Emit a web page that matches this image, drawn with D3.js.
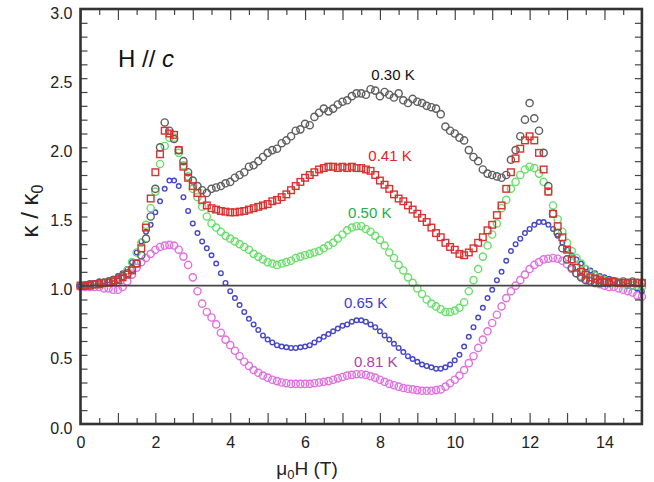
<!DOCTYPE html>
<html>
<head>
<meta charset="utf-8">
<script src="https://cdn.jsdelivr.net/npm/d3@7"></script>
<style>
  html, body { margin: 0; padding: 0; background: #fff; }
  svg { display: block; font-family: "Liberation Sans", Arial, Helvetica, sans-serif; }
</style>
</head>
<body>
<svg id="chart" width="654" height="482"></svg>
<script>
// ---- data (field in T, kappa/kappa0) ----
const fieldStep = 0.125;
const field = d3.range(121).map(i => i * fieldStep);

const k030 = [1.00,1.00,1.01,1.01,1.02,1.02,1.03,1.04,1.05,1.07,1.09,1.12,1.16,1.22,1.34,1.50,1.70,2.00,2.18,2.12,
  2.06,1.98,1.90,1.82,1.76,1.72,1.69,1.67,1.70,1.71,1.72,1.74,1.75,1.78,1.80,1.82,1.86,1.87,1.90,1.93,
  1.96,1.98,1.99,2.03,2.05,2.08,2.12,2.13,2.17,2.16,2.22,2.25,2.28,2.26,2.28,2.31,2.33,2.34,2.37,2.39,
  2.39,2.38,2.42,2.41,2.37,2.40,2.38,2.36,2.39,2.34,2.32,2.35,2.33,2.32,2.30,2.29,2.28,2.24,2.15,2.12,
  2.10,2.07,2.05,1.98,1.93,1.90,1.84,1.81,1.80,1.79,1.78,1.80,1.91,1.98,2.08,2.20,2.32,2.21,2.12,1.96,
  1.72,1.52,1.38,1.27,1.19,1.13,1.09,1.06,1.04,1.03,1.02,1.02,1.02,1.02,1.03,1.02,1.03,1.02,1.03,1.02,1.02];

const k041 = [1.00,1.00,1.00,1.01,1.01,1.02,1.02,1.03,1.04,1.06,1.08,1.11,1.16,1.27,1.42,1.63,1.82,1.95,2.12,2.10,
  2.09,1.98,1.86,1.78,1.72,1.67,1.62,1.58,1.56,1.55,1.54,1.535,1.53,1.53,1.535,1.54,1.55,1.56,1.57,1.58,
  1.59,1.61,1.62,1.64,1.66,1.69,1.72,1.75,1.78,1.80,1.82,1.84,1.85,1.86,1.86,1.85,1.86,1.85,1.86,1.85,
  1.85,1.84,1.83,1.80,1.76,1.73,1.70,1.66,1.63,1.61,1.58,1.55,1.52,1.49,1.46,1.42,1.38,1.35,1.31,1.28,
  1.26,1.23,1.22,1.24,1.27,1.31,1.35,1.40,1.44,1.51,1.58,1.70,1.82,1.92,1.99,2.05,2.08,2.05,1.96,1.84,
  1.68,1.52,1.43,1.35,1.26,1.19,1.13,1.10,1.08,1.06,1.05,1.04,1.03,1.03,1.03,1.02,1.02,1.02,1.02,1.02,1.02];

const k050 = [1.00,1.00,1.00,1.01,1.01,1.02,1.03,1.04,1.05,1.07,1.11,1.17,1.24,1.31,1.44,1.56,1.68,1.88,2.01,2.07,
  2.07,1.96,1.87,1.79,1.70,1.64,1.57,1.50,1.45,1.42,1.39,1.36,1.34,1.32,1.30,1.28,1.26,1.23,1.21,1.19,
  1.17,1.16,1.15,1.16,1.17,1.18,1.20,1.21,1.22,1.23,1.24,1.25,1.27,1.29,1.31,1.34,1.37,1.40,1.42,1.43,
  1.43,1.41,1.39,1.36,1.33,1.29,1.24,1.20,1.15,1.11,1.06,1.02,0.98,0.94,0.90,0.87,0.85,0.83,0.81,0.81,
  0.82,0.84,0.88,0.96,1.04,1.12,1.21,1.29,1.37,1.45,1.56,1.62,1.70,1.75,1.80,1.84,1.86,1.85,1.81,1.75,
  1.68,1.58,1.48,1.39,1.31,1.25,1.20,1.16,1.12,1.09,1.07,1.05,1.04,1.03,1.02,1.02,1.01,1.01,1.00,1.00,0.99];

const k065 = [1.00,1.00,1.01,1.02,1.03,1.03,1.04,1.05,1.07,1.09,1.12,1.17,1.24,1.32,1.39,1.44,1.53,1.61,1.70,1.76,
  1.76,1.72,1.64,1.54,1.45,1.38,1.32,1.27,1.22,1.16,1.09,1.02,0.96,0.91,0.86,0.81,0.76,0.72,0.68,0.64,
  0.61,0.59,0.57,0.56,0.555,0.55,0.55,0.555,0.56,0.57,0.59,0.61,0.63,0.65,0.67,0.69,0.71,0.72,0.74,0.75,
  0.75,0.74,0.72,0.70,0.67,0.64,0.61,0.58,0.55,0.52,0.49,0.47,0.45,0.43,0.42,0.41,0.40,0.40,0.41,0.43,
  0.46,0.50,0.56,0.63,0.70,0.77,0.84,0.91,0.97,1.04,1.10,1.18,1.25,1.30,1.34,1.38,1.41,1.44,1.46,1.46,
  1.44,1.41,1.36,1.31,1.26,1.22,1.19,1.16,1.13,1.11,1.09,1.07,1.06,1.05,1.04,1.02,1.01,1.00,0.99,0.98,0.96];

const k081 = [0.99,0.99,0.99,0.99,0.99,0.98,0.98,0.97,0.97,0.99,1.03,1.08,1.13,1.17,1.20,1.23,1.26,1.28,1.29,1.295,
  1.29,1.26,1.21,1.15,1.06,0.96,0.87,0.81,0.77,0.72,0.66,0.61,0.57,0.53,0.49,0.45,0.42,0.39,0.37,0.35,
  0.335,0.32,0.31,0.30,0.295,0.29,0.29,0.29,0.29,0.29,0.295,0.30,0.305,0.31,0.32,0.33,0.34,0.35,0.355,0.36,
  0.36,0.355,0.345,0.335,0.32,0.305,0.29,0.28,0.27,0.26,0.255,0.25,0.245,0.24,0.24,0.24,0.245,0.25,0.27,0.295,
  0.32,0.35,0.39,0.44,0.49,0.55,0.61,0.67,0.73,0.79,0.85,0.91,0.96,1.00,1.04,1.08,1.12,1.15,1.17,1.19,
  1.195,1.20,1.195,1.18,1.155,1.12,1.09,1.07,1.05,1.04,1.02,1.01,1.00,0.99,0.99,0.98,0.97,0.96,0.95,0.93,0.92];

const seriesNames = ["0.30 K", "0.41 K", "0.50 K", "0.65 K", "0.81 K"];
const xTickLabels = [0, 2, 4, 6, 8, 10, 12, 14];
const yTickLabels = ["0.0", "0.5", "1.0", "1.5", "2.0", "2.5", "3.0"];

// ---- styles ----
const styles = {
  "0.30 K": { values: k030, shape: "circle", r: 3.6, stroke: "#5e5e5e", label: "#111111", lx: 7.77, ly: 2.487 },
  "0.41 K": { values: k041, shape: "square", r: 3.3, stroke: "#d63232", label: "#e8202a", lx: 7.69, ly: 1.90 },
  "0.50 K": { values: k050, shape: "circle", r: 3.6, stroke: "#6ade6a", label: "#22b04a", lx: 7.15, ly: 1.49 },
  "0.65 K": { values: k065, shape: "circle", r: 2.3, stroke: "#4646c6", label: "#3a3adc", lx: 7.04, ly: 0.84 },
  "0.81 K": { values: k081, shape: "circle", r: 3.6, stroke: "#e070e0", label: "#b040b0", lx: 7.31, ly: 0.41 }
};
const drawOrder = ["0.81 K", "0.65 K", "0.50 K", "0.30 K", "0.41 K"];

// ---- layout ----
const svg = d3.select("#chart");
const x = d3.scaleLinear().domain([0, 15]).range([80.5, 641.9]);
const y = d3.scaleLinear().domain([0, 3]).range([424, 9]);
const font = '"Liberation Sans", Arial, Helvetica, sans-serif';

// markers
drawOrder.forEach(name => {
  const s = styles[name];
  const pts = field.map((f, i) => ({ f, v: s.values[i] }));
  const g = svg.append("g").attr("fill", "none").attr("stroke", s.stroke).attr("stroke-width", 1.4);
  if (s.shape === "square") {
    g.selectAll("rect").data(pts).join("rect")
      .attr("x", d => x(d.f) - s.r).attr("y", d => y(d.v) - s.r)
      .attr("width", 2 * s.r).attr("height", 2 * s.r);
  } else {
    g.selectAll("circle").data(pts).join("circle")
      .attr("cx", d => x(d.f)).attr("cy", d => y(d.v)).attr("r", s.r);
  }
});

// reference line at 1.0
svg.append("line")
  .attr("x1", x(0)).attr("x2", x(15)).attr("y1", y(1)).attr("y2", y(1))
  .attr("stroke", "#444").attr("stroke-width", 1.6);

// axes with inward ticks
const tickColor = "#444";
function tickAxis(axisGen, transform) {
  const g = svg.append("g").attr("transform", transform).call(axisGen);
  g.select(".domain").remove();
  g.selectAll("line").attr("stroke", tickColor).attr("stroke-width", 1.2);
  g.selectAll("text").remove();
  return g;
}
const xMajor = d3.range(0, 16, 1);
const xMinor = d3.range(0.5, 15, 1);
const yMinor = d3.range(1, 30).map(i => i / 10);

tickAxis(d3.axisTop(x).tickValues(xMajor).tickSize(11), `translate(0,${y(0)})`);
tickAxis(d3.axisTop(x).tickValues(xMinor).tickSize(6), `translate(0,${y(0)})`);
tickAxis(d3.axisBottom(x).tickValues(xMajor).tickSize(11), `translate(0,${y(3)})`);
tickAxis(d3.axisBottom(x).tickValues(xMinor).tickSize(6), `translate(0,${y(3)})`);
tickAxis(d3.axisRight(y).tickValues(yMinor).tickSize(7), `translate(${x(0)},0)`);
tickAxis(d3.axisLeft(y).tickValues(yMinor).tickSize(7), `translate(${x(15)},0)`);

// frame
svg.append("rect")
  .attr("x", x(0)).attr("y", y(3))
  .attr("width", x(15) - x(0)).attr("height", y(0) - y(3))
  .attr("fill", "none").attr("stroke", "#333").attr("stroke-width", 2.6);

// tick labels
const xl = d3.axisBottom(x).tickValues(xTickLabels).tickSize(0).tickPadding(0).tickFormat(d3.format("d"));
const gxl = svg.append("g").attr("transform", `translate(0,${y(0)})`).call(xl);
gxl.select(".domain").remove();
gxl.selectAll("text").attr("dy", null).attr("y", 24).attr("font-size", 16).attr("font-family", font).attr("fill", "#222");

const yl = d3.axisLeft(y).tickValues(yTickLabels.map(Number)).tickSize(0).tickPadding(0).tickFormat((d, i) => yTickLabels[i]);
const gyl = svg.append("g").attr("transform", `translate(${x(0) - 8},0)`).call(yl);
gyl.select(".domain").remove();
gyl.selectAll("text").attr("dy", null).attr("y", 9).attr("font-size", 16).attr("font-family", font).attr("fill", "#222");

// axis titles
const xt = svg.append("text").attr("x", 307).attr("y", 475).attr("text-anchor", "middle")
  .attr("font-size", 19).attr("font-family", font).attr("fill", "#222");
xt.append("tspan").text("μ");
xt.append("tspan").text("0").attr("font-size", 13).attr("dy", 4);
xt.append("tspan").text("H (T)").attr("dy", -4);

const yt = svg.append("text").attr("transform", "translate(38,211) rotate(-90)").attr("text-anchor", "middle")
  .attr("font-size", 24).attr("font-family", font).attr("fill", "#222");
yt.append("tspan").text("κ / κ");
yt.append("tspan").text("0").attr("font-size", 16).attr("dy", 5);

// H // c
const hc = svg.append("text").attr("x", 118).attr("y", 67).attr("font-size", 24).attr("font-family", font).attr("fill", "#111");
hc.append("tspan").text("H // ");
hc.append("tspan").text("c").attr("font-style", "italic");

// series labels
seriesNames.forEach(name => {
  const s = styles[name];
  svg.append("text").attr("x", x(s.lx)).attr("y", y(s.ly))
    .attr("font-size", 15).attr("font-family", font).attr("fill", s.label).text(name);
});
</script>
</body>
</html>
